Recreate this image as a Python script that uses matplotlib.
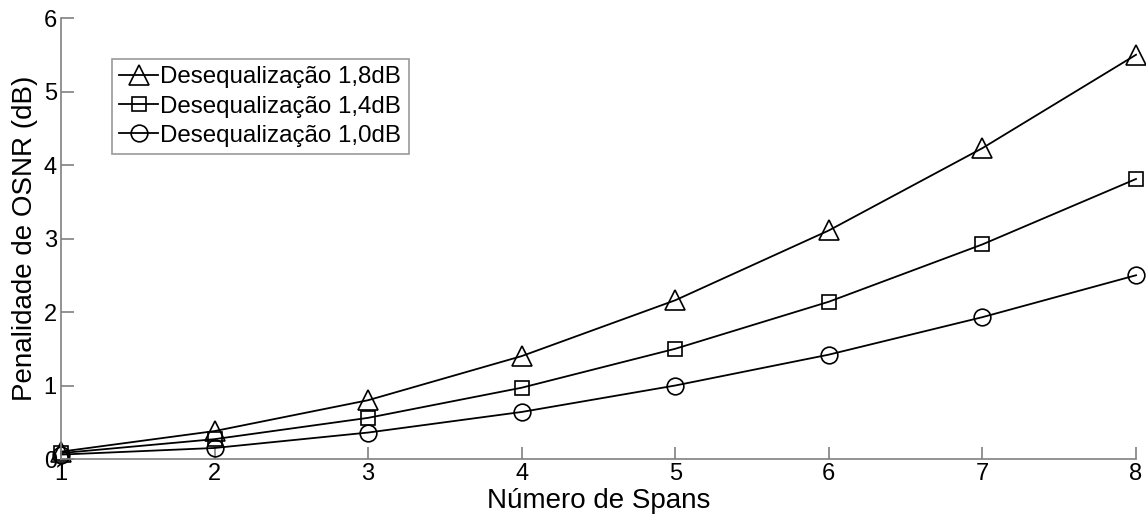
import matplotlib.pyplot as plt

plt.rcParams['font.family'] = ['Liberation Sans', 'DejaVu Sans']

spans = [1, 2, 3, 4, 5, 6, 7, 8]
pen_18 = [0.10, 0.38, 0.80, 1.40, 2.16, 3.11, 4.23, 5.50]
pen_14 = [0.08, 0.27, 0.56, 0.97, 1.50, 2.14, 2.92, 3.81]
pen_10 = [0.06, 0.15, 0.36, 0.64, 1.00, 1.42, 1.93, 2.50]
labels = ["Desequalização 1,8dB", "Desequalização 1,4dB", "Desequalização 1,0dB"]

fig = plt.figure(figsize=(11.46, 5.19), dpi=100)
ax = fig.add_axes([0.0532, 0.1156, 0.9381, 0.8497])

ax.plot(spans, pen_18, color='black', lw=1.3, marker='^', ms=14,
        mfc='none', mec='black', mew=1.2, clip_on=False, label=labels[0])
ax.plot(spans, pen_14, color='black', lw=1.3, marker='s', ms=10,
        mfc='none', mec='black', mew=1.2, clip_on=False, label=labels[1])
ax.plot(spans, pen_10, color='black', lw=1.3, marker='o', ms=12,
        mfc='none', mec='black', mew=1.2, clip_on=False, label=labels[2])

ax.set_xlim(1, 8)
ax.set_ylim(0, 6)
ax.set_xticks(spans)
ax.set_yticks(range(0, 7))

for side in ['top', 'right']:
    ax.spines[side].set_visible(False)
for side in ['left', 'bottom']:
    ax.spines[side].set_color('#808080')
    ax.spines[side].set_linewidth(1.2)

ax.tick_params(direction='in', length=9, width=1.2, color='#808080',
               labelsize=17, pad=3)

ax.set_xlabel("Número de Spans", fontsize=20, labelpad=2)
ax.set_ylabel("Penalidade de OSNR (dB)", fontsize=20, labelpad=4)

leg = ax.legend(loc='upper left', bbox_to_anchor=(0.0475, 0.907), fontsize=17.4,
                frameon=True, fancybox=False, handlelength=1.6,
                handletextpad=0.1, borderpad=0.3, labelspacing=0.3,
                borderaxespad=0)
leg.get_frame().set_edgecolor('#808080')
leg.get_frame().set_linewidth(1.2)

fig.savefig("out.png", dpi=100)
